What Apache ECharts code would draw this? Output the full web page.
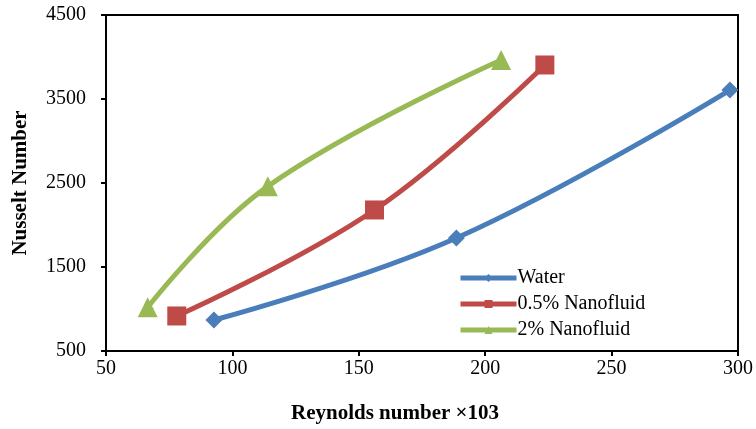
<!DOCTYPE html>
<html>
<head>
<meta charset="utf-8">
<script src="https://cdn.jsdelivr.net/npm/echarts@6/dist/echarts.min.js"></script>
<style>
  html, body { margin: 0; padding: 0; background: #fff; }
  #chart { width: 756px; height: 429px; }
</style>
</head>
<body>
<div id="chart"></div>
<script>
// Reynolds number (×10^3) and Nusselt number for each fluid
const waterRe = [92.7, 188.6, 296.8];
const waterNu = [869, 1845, 3607];
const nano05Re = [78, 156.2, 223.6];
const nano05Nu = [917, 2179, 3905];
const nano2Re = [66.5, 114, 206.3];
const nano2Nu = [1020, 2460, 3964];

const seriesNames = ['Water', '0.5% Nanofluid', '2% Nanofluid'];
const xTicks = [50, 100, 150, 200, 250, 300];
const yTicks = [500, 1500, 2500, 3500, 4500];

const pairs = (xs, ys) => xs.map((x, i) => [x, ys[i]]);

const serif = '"Liberation Serif", "Times New Roman", serif';
const chart = echarts.init(document.getElementById('chart'));

const lineSeries = (name, data, color, symbol, size) => ({
  name,
  type: 'line',
  data,
  smooth: 0.4,
  symbol,
  symbolSize: size,
  lineStyle: { width: 5, color },
  itemStyle: { color },
  z: 3
});

const tickStyle = { show: true, inside: false, length: 5, lineStyle: { color: '#000', width: 2 } };

chart.setOption({
  animation: false,
  grid: {
    left: 106, right: 17, top: 15, bottom: 78,
    show: true, borderColor: '#000', borderWidth: 2
  },
  legend: {
    orient: 'vertical',
    left: 453, top: 263,
    itemWidth: 56, itemHeight: 10,
    itemGap: 6,
    lineStyle: { width: 5 },
    textStyle: { fontFamily: serif, fontSize: 20, color: '#000', padding: [0, 0, 0, -4] },
    data: seriesNames
  },
  xAxis: {
    type: 'value',
    min: xTicks[0], max: xTicks[xTicks.length - 1], interval: 50,
    name: 'Reynolds number ×103',
    nameLocation: 'middle',
    nameGap: 52,
    nameTextStyle: { fontFamily: serif, fontSize: 21, fontWeight: 'bold', color: '#000', padding: [0, 54, 0, 0] },
    axisLine: { lineStyle: { color: '#000', width: 2 } },
    axisTick: tickStyle,
    axisLabel: { fontFamily: serif, fontSize: 20, color: '#000', margin: 8, formatter: v => String(v) },
    splitLine: { show: false }
  },
  yAxis: {
    type: 'value',
    min: yTicks[0], max: yTicks[yTicks.length - 1], interval: 1000,
    name: 'Nusselt Number',
    nameLocation: 'middle',
    nameGap: 75,
    nameTextStyle: { fontFamily: serif, fontSize: 21, fontWeight: 'bold', color: '#000' },
    axisLine: { lineStyle: { color: '#000', width: 2 } },
    axisTick: tickStyle,
    axisLabel: { fontFamily: serif, fontSize: 20, color: '#000', margin: 20, formatter: v => String(v) },
    splitLine: { show: false }
  },
  series: [
    lineSeries(seriesNames[0], pairs(waterRe, waterNu), '#4A7EBB', 'diamond', 17),
    lineSeries(seriesNames[1], pairs(nano05Re, nano05Nu), '#BE4B48', 'rect', 19),
    lineSeries(seriesNames[2], pairs(nano2Re, nano2Nu), '#98B954', 'triangle', 20)
  ]
});
</script>
</body>
</html>
